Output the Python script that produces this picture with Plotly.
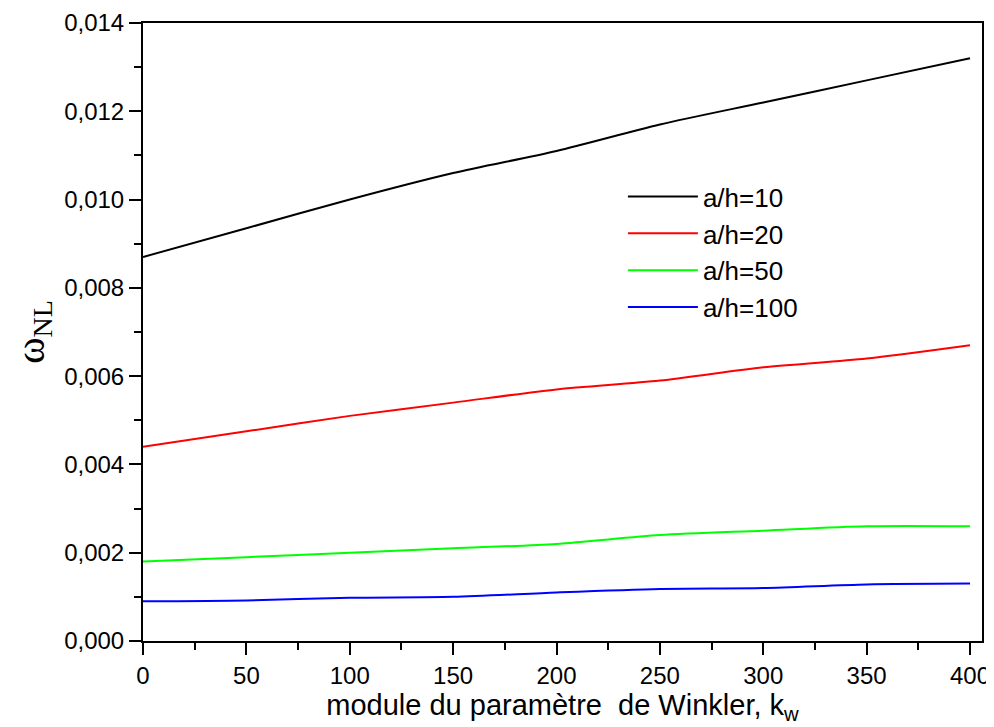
import plotly.graph_objects as go

kw = [0, 50, 100, 150, 200, 250, 300, 350, 400]
ah10 = [0.0087, 0.00935, 0.0100, 0.0106, 0.0111, 0.0117, 0.0122, 0.0127, 0.0132]
ah20 = [0.0044, 0.00475, 0.0051, 0.0054, 0.0057, 0.0059, 0.0062, 0.0064, 0.0067]
ah50 = [0.0018, 0.0019, 0.0020, 0.0021, 0.0022, 0.0024, 0.0025, 0.0026, 0.0026]
ah100 = [0.0009, 0.00092, 0.00098, 0.0010, 0.0011, 0.00118, 0.0012, 0.00128, 0.0013]

series_names = ["a/h=10", "a/h=20", "a/h=50", "a/h=100"]
series_vals = [ah10, ah20, ah50, ah100]
colors = ["#000000", "#ff0000", "#00ff00", "#0000ff"]

fig = go.Figure()
for name, vals, c in zip(series_names, series_vals, colors):
    fig.add_trace(go.Scatter(
        x=kw, y=vals, mode="lines", name=name,
        line=dict(color=c, width=2, shape="spline", smoothing=0.8),
    ))

axis_common = dict(
    showgrid=False, zeroline=False, showline=True, linecolor="black",
    linewidth=2, mirror=True, ticks="outside", ticklen=12, tickwidth=2,
    tickcolor="black", automargin=False,
    tickfont=dict(family="Liberation Sans, Arial, sans-serif", size=24, color="black"),
)

fig.update_xaxes(
    range=[0, 405.8], tickmode="linear", tick0=0, dtick=50,
    minor=dict(ticks="outside", ticklen=7, tickwidth=2, tickcolor="black", dtick=25, tick0=0),
    title=dict(text="module du paramètre  de Winkler, k<sub>w</sub>",
               font=dict(family="Liberation Sans, Arial, sans-serif", size=29, color="black"),
               standoff=2),
    **axis_common,
)
fig.update_yaxes(
    range=[0, 0.014], tickmode="linear", tick0=0, dtick=0.002, tickformat=".3f",
    minor=dict(ticks="outside", ticklen=7, tickwidth=2, tickcolor="black", dtick=0.001, tick0=0),
    title=dict(text="ω<sub>NL</sub>",
               font=dict(family="Liberation Serif, Times New Roman, serif", size=40, color="black"),
               standoff=33),
    **axis_common,
)

# page body has an 8px default margin, so the figure is sized to fit inside the window
fig.update_layout(
    width=986, height=719,
    margin=dict(l=135, r=12, t=15, b=86),
    plot_bgcolor="white", paper_bgcolor="white",
    separators=",.",
    showlegend=True,
    legend=dict(
        x=0.572, y=0.757, xanchor="left", yanchor="top",
        bgcolor="rgba(0,0,0,0)", borderwidth=0,
        font=dict(family="Liberation Sans, Arial, sans-serif", size=26, color="black"),
        itemwidth=70,
    ),
)

fig.write_html("out.html")
